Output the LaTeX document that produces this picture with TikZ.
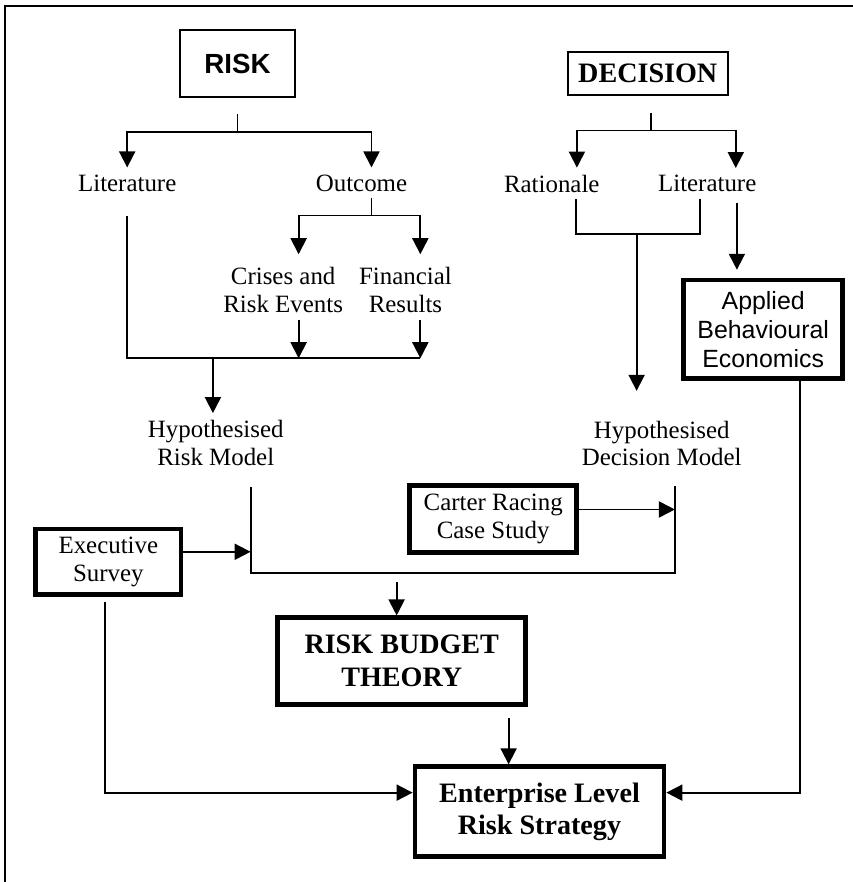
\documentclass[tikz,border=0pt]{standalone}
\usepackage{fontspec}
\setmainfont{Liberation Serif}
\setsansfont{Liberation Sans}
\usetikzlibrary{calc,positioning,arrows.meta}

\begin{document}
\begin{tikzpicture}[
    on grid,
    txt/.style={align=center, font=\fontsize{12.4}{13.9}\selectfont},
    thinbox/.style={draw, line width=1pt, inner sep=0pt, align=center},
    thickbox/.style={draw, line width=2.3pt, inner sep=0pt, align=center},
    line/.style={line width=0.95pt},
    arr/.style={-{Triangle[length=0.28cm, width=0.28cm]}, line width=0.95pt}
]
\useasboundingbox (-4.156,1.111) rectangle (10.771,-14.324);
% Nodes
\node[thinbox, minimum width=2.01cm, minimum height=1.17cm, font=\sffamily\bfseries\fontsize{13.8}{16}\selectfont] (risk) {RISK};
\node[thinbox, minimum width=2.8cm, minimum height=0.75cm, font=\bfseries\fontsize{14}{16}\selectfont, right=7.18cm of risk, yshift=-0.18cm] (decision) {DECISION};
\node[txt, below=2.09cm of risk, xshift=-1.93cm] (litA) {Literature};
\node[txt, right=4.1cm of litA] (outcome) {Outcome};
\node[txt, below=1.87cm of outcome, xshift=-1.37cm] (crises) {Crises and\\Risk Events};
\node[txt, right=2.14cm of crises] (financial) {Financial\\Results};
\node[txt, below=2.68cm of crises, xshift=-1.18cm] (hrm) {Hypothesised\\Risk Model};
\node[txt, below=1.92cm of decision, xshift=-1.68cm] (rationale) {Rationale};
\node[txt, right=2.72cm of rationale] (litB) {Literature};
\node[thickbox, minimum width=2.78cm, minimum height=1.72cm, font=\sffamily\fontsize{12.4}{14.4}\selectfont, below=2.55cm of litB, xshift=0.98cm] (abe) {Applied\\Behavioural\\Economics};
\node[txt, below=4.55cm of rationale, xshift=1.925cm] (hdm) {Hypothesised\\Decision Model};
\node[thickbox, txt, minimum width=2.92cm, minimum height=1.17cm, below=1.32cm of hdm, xshift=-2.95cm] (carter) {Carter Racing\\Case Study};
\node[thickbox, txt, minimum width=2.54cm, minimum height=1.15cm, below=2.08cm of hrm, xshift=-1.88cm] (exec) {Executive\\Survey};
\node[thickbox, minimum width=4.34cm, minimum height=1.52cm, font=\bfseries\fontsize{14}{16.4}\selectfont, below=3.82cm of hrm, xshift=3.255cm] (rbt) {RISK BUDGET\\THEORY};
\node[thickbox, minimum width=4.36cm, minimum height=1.57cm, font=\bfseries\fontsize{14}{16}\selectfont, below=2.63cm of rbt, xshift=2.41cm] (ers) {Enterprise Level\\Risk Strategy};
% Helper coordinates
\coordinate (rbar) at ([yshift=0.96cm]hrm.north);
\coordinate (dbar) at ([yshift=-0.6cm]rationale.south);
\coordinate (hrmB) at ([xshift=0.61cm,yshift=-0.25cm]hrm.south);
\coordinate (hdmB) at ([xshift=0.23cm,yshift=-0.23cm]hdm.south);
\coordinate (mbar) at ([yshift=0.74cm]rbt.north);
% Arrows
\draw[line] ([yshift=-0.28cm]risk.south) -- ++(0,-0.32) coordinate (rsplit);
\draw[arr] (rsplit) -| (litA.north);
\draw[arr] (rsplit) -| ([xshift=0.175cm]outcome.north);
\draw[line] ([xshift=0.175cm]outcome.south) -- ++(0,-0.3) coordinate (osplit);
\draw[arr] (osplit) -| ([xshift=0.27cm,yshift=0.1cm]crises.north);
\draw[arr] (osplit) -| ([xshift=0.26cm,yshift=0.1cm]financial.north);
\draw[line] ([yshift=-0.315cm]litA.south) |- ([xshift=0.26cm]financial.south |- rbar);
\draw[arr] ([xshift=0.27cm]crises.south) -- ([xshift=0.27cm]crises.south |- rbar);
\draw[arr] ([xshift=0.26cm]financial.south) -- ([xshift=0.26cm]financial.south |- rbar);
\draw[arr] ([xshift=-0.05cm]rbar) -- ([xshift=-0.05cm]hrm.north);
\draw[line] ([xshift=0.05cm,yshift=-0.3cm]decision.south) -- ++(0,-0.3) coordinate (dsplit);
\draw[arr] (dsplit) -| ([xshift=0.44cm]rationale.north);
\draw[arr] (dsplit) -| ([xshift=0.5cm]litB.north);
\draw[line] ([xshift=0.42cm]rationale.south) |- ([xshift=-0.13cm]litB.south |- dbar) -- ([xshift=-0.13cm]litB.south);
\draw[arr] ([xshift=-0.44cm]hdm.north |- dbar) -- ([xshift=-0.44cm,yshift=0.4cm]hdm.north);
\draw[arr] ([xshift=0.52cm,yshift=-0.07cm]litB.south) coordinate (lb) -- ([yshift=0.14cm]lb |- abe.north);
\draw[line] (hrmB) |- (hdmB |- mbar) -- (hdmB);
\draw[arr] ([xshift=-0.09cm,yshift=0.58cm]rbt.north) -- ([xshift=-0.09cm]rbt.north);
\draw[arr] ([yshift=0.175cm]exec.east) -- ([yshift=0.175cm]exec.east -| hrmB);
\draw[arr] ([yshift=0.165cm]carter.east) -- ([yshift=0.165cm]carter.east -| hdmB);
\draw[arr] ([xshift=1.87cm,yshift=-0.19cm]rbt.south) coordinate (rs) -- (rs |- ers.north);
\draw[arr] ([xshift=-0.06cm,yshift=-0.09cm]exec.south) |- ([yshift=0.33cm]ers.west);
\draw[arr] ([xshift=0.64cm]abe.south) |- ([yshift=0.33cm]ers.east);
% Frame
\draw[line width=1.1pt] (10.771,1.006) -- (-4.069,1.006) -- (-4.069,-14.324);
\end{tikzpicture}
\end{document}
